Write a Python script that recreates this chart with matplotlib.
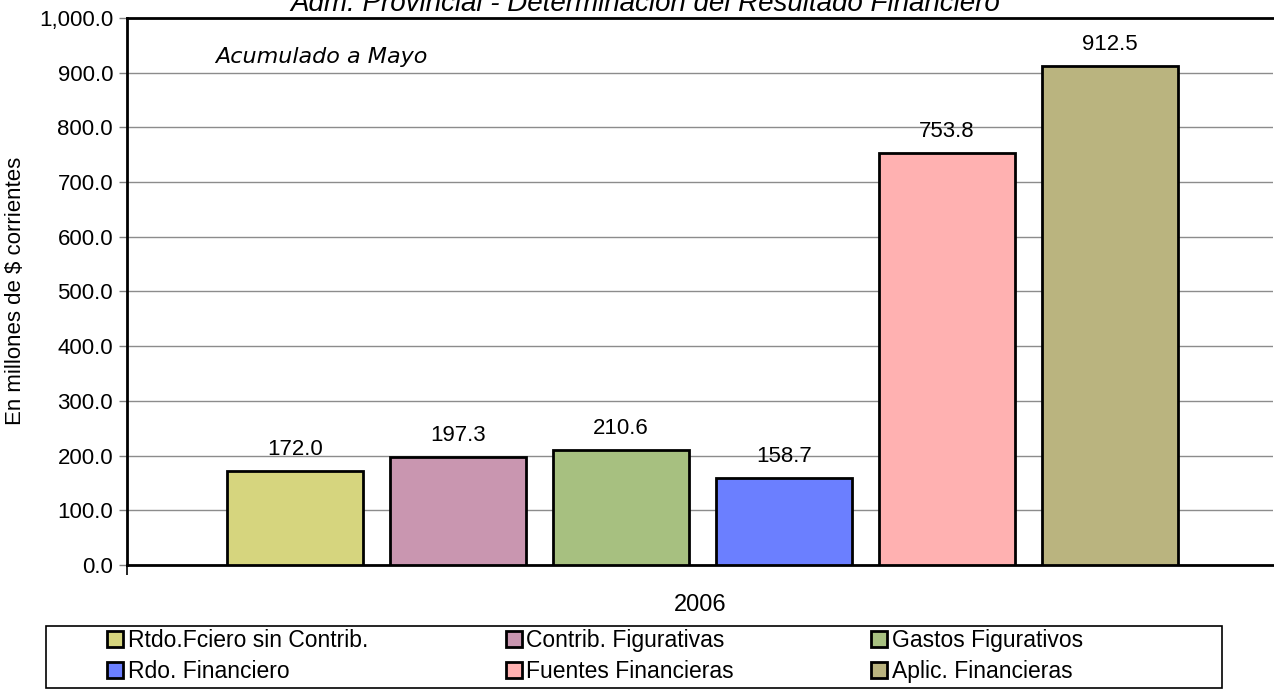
import numpy as np
import matplotlib.pyplot as plt
from matplotlib.patches import Rectangle

plt.rcParams['font.family'] = ['Liberation Sans', 'DejaVu Sans']

# datos (millones de $ corrientes, acumulado a mayo 2006)
series = ['Rtdo.Fciero sin Contrib.', 'Contrib. Figurativas', 'Gastos Figurativos',
          'Rdo. Financiero', 'Fuentes Financieras', 'Aplic. Financieras']
values = [172.0, 197.3, 210.6, 158.7, 753.8, 912.5]
colors = ['#D6D57E', '#C996B0', '#A7C080', '#6B7FFF', '#FFB1B1', '#BAB47F']
category = '2006'

fig = plt.figure(figsize=(12.74, 6.91), dpi=100)
ax = fig.add_axes([127/1274, 1-565/691, 1146/1274, 547/691])

step = 163/1146
width = 136/1146
offsets = (np.arange(len(values)) - 2.5) * step + 2.5/1146
handles = []
for i, (name, v, c) in enumerate(zip(series, values, colors)):
    b = ax.bar(offsets[i], v, width=width, color=c, edgecolor='black', linewidth=2, label=name, zorder=3)
    ax.bar_label(b, labels=[f'{v:,.1f}'], padding=8, fontsize=16)
    handles.append(b)

ax.set_xlim(-0.5, 0.5)
ax.set_ylim(0, 1000)
ax.set_yticks(np.arange(0, 1001, 100))
ax.set_yticklabels([f'{t:,.1f}' for t in np.arange(0, 1001, 100)])
ax.yaxis.grid(True, color='#8c8c8c', linewidth=1, zorder=0)
ax.tick_params(axis='y', labelsize=16, length=6, color='#808080', width=1, pad=4)
ax.set_xticks([0], [category])
ax.set_xticks([-0.5], minor=True)
ax.tick_params(axis='x', which='major', length=0, labelsize=17, pad=21)
ax.tick_params(axis='x', which='minor', length=7, width=1.2, color='black')
for s in ['left', 'top', 'bottom']:
    ax.spines[s].set_linewidth(2)
    ax.spines[s].set_color('black')
ax.spines['right'].set_visible(False)

fig.text(16/1274, 1-291/691, 'En millones de $ corrientes', fontsize=16,
         rotation=90, ha='center', va='center')
fig.text(215/1274, 1-57/691, 'Acumulado a Mayo', fontsize=16, style='italic',
         family=['DejaVu Sans'], va='center', ha='left')
fig.text(645/1274, 1-11/691, 'Adm. Provincial - Determinación del Resultado Financiero',
         fontsize=20, style='italic', ha='center', va='baseline')

# legend filled row by row as in the original
order = [0, 3, 1, 4, 2, 5]
leg = fig.legend([handles[k] for k in order], [series[k] for k in order],
                 loc='center left', ncol=3, frameon=False,
                 bbox_to_anchor=(107/1274, 1-656/691),
                 fontsize=16.5, handlelength=0.7, handleheight=0.7, handletextpad=0.2,
                 columnspacing=6.0, labelspacing=0.35, borderpad=0, borderaxespad=0)
for h in leg.legend_handles:
    h.set_linewidth(2)
fig.add_artist(Rectangle((46/1274, 1-688/691), 1176/1274, 62/691, transform=fig.transFigure,
                         fill=False, edgecolor='black', linewidth=1.2))

fig.savefig('out.png', dpi=100)
